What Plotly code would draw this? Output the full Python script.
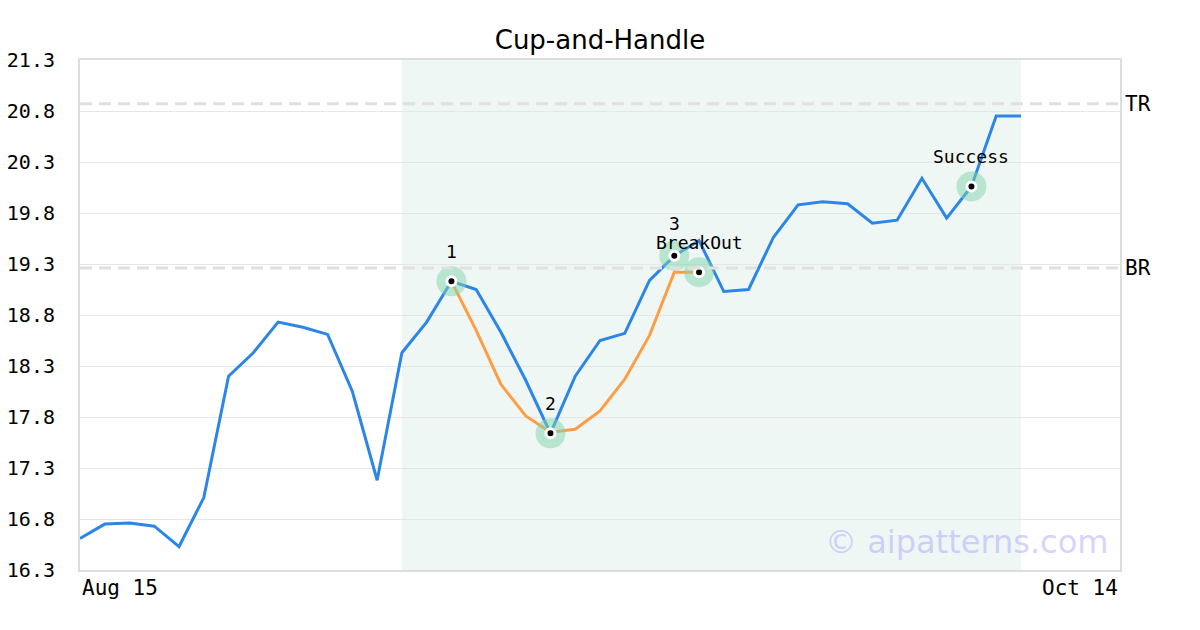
import plotly.graph_objects as go

# ---- data ----
price = [16.61, 16.75, 16.76, 16.73, 16.53, 17.01, 18.20, 18.43, 18.73, 18.68,
         18.61, 18.05, 17.18, 18.43, 18.73, 19.13, 19.05, 18.63, 18.16, 17.64,
         18.20, 18.55, 18.62, 19.14, 19.38, 19.53, 19.03, 19.05, 19.56, 19.88,
         19.91, 19.89, 19.70, 19.73, 20.14, 19.75, 20.06, 20.75, 20.75]
cup_idx = [15, 16, 17, 18, 19, 20, 21, 22, 23, 24, 25]
cup_vals = [19.13, 18.65, 18.12, 17.81, 17.65, 17.68, 17.86, 18.17, 18.60, 19.22, 19.22]
point_idx = [15, 19, 24, 25, 36]
point_vals = [19.13, 17.64, 19.38, 19.22, 20.06]
point_labels = ["1", "2", "3", "BreakOut", "Success"]
tr_level = 20.87
br_level = 19.26
level_names = ["TR", "BR"]
shade_start, shade_end = 13, 38
x_range = [0, 42]
y_ticks = [16.3, 16.8, 17.3, 17.8, 18.3, 18.8, 19.3, 19.8, 20.3, 20.8, 21.3]
date_labels = ["Aug 15", "Oct 14"]

x = list(range(len(price)))
mono = "DejaVu Sans Mono"

fig = go.Figure()
fig.add_vrect(x0=shade_start, x1=shade_end, fillcolor="#eff7f4", line_width=0, layer="below")

for lvl in (tr_level, br_level):
    fig.add_shape(type="line", xref="paper", x0=0, x1=1, y0=lvl, y1=lvl,
                  line=dict(color="#e0e0e0", width=3, dash="12px,7px"), layer="above")

fig.add_trace(go.Scatter(x=x, y=price, mode="lines",
                         line=dict(color="#2b86e8", width=3), hoverinfo="skip"))
fig.add_trace(go.Scatter(x=cup_idx, y=cup_vals, mode="lines",
                         line=dict(color="#ff9d45", width=3), hoverinfo="skip"))
fig.add_trace(go.Scatter(x=point_idx, y=point_vals, mode="markers",
                         marker=dict(size=30, color="rgba(130,212,172,0.5)"), hoverinfo="skip"))
fig.add_trace(go.Scatter(x=point_idx, y=point_vals, mode="markers",
                         marker=dict(size=9, color="black", line=dict(color="white", width=3)),
                         hoverinfo="skip"))

for px, py, lab in zip(point_idx, point_vals, point_labels):
    fig.add_annotation(x=px, y=py, text=lab, showarrow=False, yshift=32 if lab == "3" else 30,
                       font=dict(family=mono, size=18, color="black"))

for lvl, name in zip((tr_level, br_level), level_names):
    fig.add_annotation(xref="paper", x=1, y=lvl, text=name, showarrow=False,
                       xanchor="left", xshift=3, font=dict(family=mono, size=21, color="black"))

fig.add_annotation(xref="paper", yref="paper", x=0, y=0, text=date_labels[0], showarrow=False,
                   xanchor="left", yanchor="top", yshift=-4,
                   font=dict(family=mono, size=21, color="black"))
fig.add_annotation(xref="paper", yref="paper", x=1, y=0, text=date_labels[1], showarrow=False,
                   xanchor="right", yanchor="top", yshift=-4,
                   font=dict(family=mono, size=21, color="black"))

fig.add_annotation(xref="paper", yref="paper", x=0.99, y=0.055, text="© aipatterns.com",
                   showarrow=False, xanchor="right", yanchor="middle",
                   font=dict(family="DejaVu Sans", size=32, color="rgba(170,170,255,0.5)"))

fig.update_layout(
    width=1192, height=622,
    margin=dict(l=72, r=80, t=52, b=60),
    paper_bgcolor="white", plot_bgcolor="white",
    showlegend=False,
    title=dict(text="Cup-and-Handle", x=0.5 - 4 / 1192, xanchor="center", y=1 - 32 / 622,
               yanchor="middle",
               font=dict(family="DejaVu Sans", size=26, color="black")),
    xaxis=dict(range=x_range, showgrid=False, zeroline=False, showticklabels=False,
               showline=True, mirror=True, linecolor="#dddddd", linewidth=2,
               fixedrange=True, automargin=False),
    yaxis=dict(range=[y_ticks[0], y_ticks[-1]], tickvals=y_ticks,
               ticktext=[f"{v:.1f}" for v in y_ticks],
               showgrid=True, gridcolor="#e6e6e6", gridwidth=1, zeroline=False,
               showline=True, mirror=True, linecolor="#dddddd", linewidth=2,
               ticklabelstandoff=19, automargin=False,
               tickfont=dict(family=mono, size=20, color="black")),
)

fig.write_html("out.html")
